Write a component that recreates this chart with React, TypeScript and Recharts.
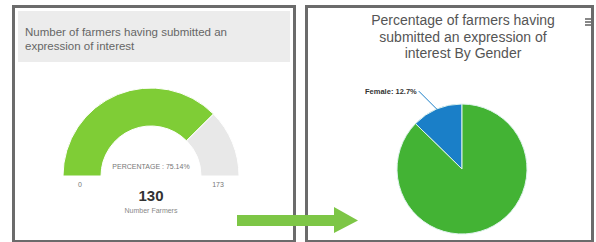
import { PieChart, Pie, Cell } from 'recharts';

const gaugeParts = ['Submitted', 'Remaining'];
const gaugeValues = [130, 43];
const gaugeMin = 0;
const genderNames = ['Female', 'Male'];
const genderValues = [12.7, 87.3];

const gaugeData = gaugeParts.map((name, i) => ({ name, value: gaugeValues[i] }));
const genderData = genderNames.map((name, i) => ({ name, value: genderValues[i] }));
const gaugeMax = gaugeValues[0] + gaugeValues[1];
const gaugePct = ((gaugeValues[0] / gaugeMax) * 100).toFixed(2);

const RADIAN = Math.PI / 180;
const font = '"Liberation Sans", Arial, sans-serif';
const noMargin = { top: 0, right: 0, bottom: 0, left: 0 };

function FemaleLabel(props: any) {
  const { cx, cy, midAngle, outerRadius, name, value, index } = props;
  if (index !== 0) return null;
  const sx = cx + outerRadius * Math.cos(-midAngle * RADIAN);
  const sy = cy + outerRadius * Math.sin(-midAngle * RADIAN);
  const ex = sx - 18;
  const ey = sy - 18;
  return (
    <g>
      <path d={`M${sx},${sy}L${ex},${ey}`} stroke="#1a7fc8" strokeWidth={1} fill="none" />
      <text x={ex - 2} y={ey} textAnchor="end" dominantBaseline="central" fontSize={7.5} fontWeight="bold" fill="#333" fontFamily={font}>
        {`${name}: ${value}%`}
      </text>
    </g>
  );
}

export default function App() {
  return (
    <div style={{ position: 'absolute', left: 0, top: 0, width: 596, height: 242, background: '#fff', overflow: 'hidden', fontFamily: font }}>
      {/* left panel */}
      <div style={{ position: 'absolute', left: 12, top: 5, width: 278, height: 232, border: '3px solid #6b6b6b' }} />
      <div style={{ position: 'absolute', left: 18, top: 11, width: 272, height: 51, background: '#ececec' }} />
      <div style={{ position: 'absolute', left: 25, top: 25, width: 225, fontSize: 11.5, lineHeight: '14px', color: '#666' }}>
        Number of farmers having submitted an expression of interest
      </div>
      <div style={{ position: 'absolute', left: 0, top: 0 }}>
        <PieChart width={300} height={242} margin={noMargin}>
          <Pie
            data={gaugeData}
            dataKey="value"
            cx={151}
            cy={176}
            startAngle={180}
            endAngle={0}
            innerRadius={50}
            outerRadius={88}
            stroke="#fff"
            strokeWidth={1}
            isAnimationActive={false}
          >
            <Cell fill="#7fcd36" />
            <Cell fill="#e8e8e8" />
          </Pie>
        </PieChart>
      </div>
      <div style={{ position: 'absolute', left: 96, top: 163, width: 110, textAlign: 'center', fontSize: 7, color: '#777', whiteSpace: 'nowrap' }}>
        {`PERCENTAGE : ${gaugePct}%`}
      </div>
      <div style={{ position: 'absolute', left: 70, top: 181, width: 20, textAlign: 'center', fontSize: 7, color: '#777' }}>{gaugeMin}</div>
      <div style={{ position: 'absolute', left: 208, top: 181, width: 20, textAlign: 'center', fontSize: 7, color: '#777' }}>{gaugeMax}</div>
      <div style={{ position: 'absolute', left: 111, top: 187, width: 80, textAlign: 'center', fontSize: 15, fontWeight: 'bold', color: '#333' }}>{gaugeValues[0]}</div>
      <div style={{ position: 'absolute', left: 101, top: 207, width: 100, textAlign: 'center', fontSize: 7, color: '#888' }}>Number Farmers</div>

      {/* right panel */}
      <div style={{ position: 'absolute', left: 305, top: 5, width: 283, height: 232, border: '3px solid #6b6b6b' }} />
      <div style={{ position: 'absolute', left: 361, top: 12, width: 204, textAlign: 'center', fontSize: 14, lineHeight: '16.5px', color: '#555' }}>
        Percentage of farmers having submitted an expression of interest By Gender
      </div>
      <div style={{ position: 'absolute', left: 585, top: 18, width: 6 }}>
        {[0, 1, 2].map((k) => (
          <div key={k} style={{ height: 1.5, background: '#888', marginBottom: 1.5 }} />
        ))}
      </div>
      <div style={{ position: 'absolute', left: 296, top: 0 }}>
        <PieChart width={300} height={242} margin={noMargin}>
          <Pie
            data={genderData}
            dataKey="value"
            nameKey="name"
            cx={166}
            cy={169}
            startAngle={90}
            endAngle={450}
            outerRadius={65}
            stroke="#dff3ee"
            strokeWidth={1}
            label={FemaleLabel}
            labelLine={false}
            isAnimationActive={false}
          >
            <Cell fill="#1a7fc8" />
            <Cell fill="#43b334" />
          </Pie>
        </PieChart>
      </div>

      {/* arrow */}
      <svg style={{ position: 'absolute', left: 0, top: 0 }} width={596} height={242}>
        <path d="M237,215 L334,215 L334,207 L358,220.5 L334,233 L334,226 L237,226 Z" fill="#7dc646" />
      </svg>
    </div>
  );
}
